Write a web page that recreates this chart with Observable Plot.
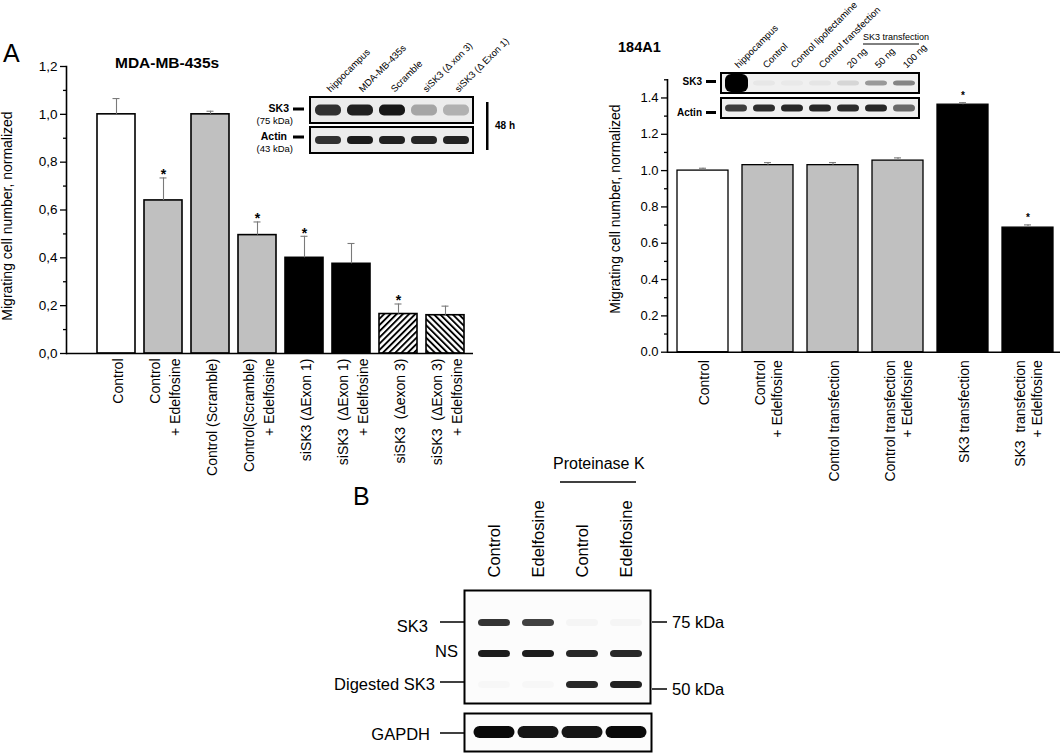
<!DOCTYPE html>
<html>
<head>
<meta charset="utf-8">
<script src="https://cdn.jsdelivr.net/npm/d3@7"></script>
<script src="https://cdn.jsdelivr.net/npm/@observablehq/plot@0.6"></script>
<style>
html,body{margin:0;padding:0;background:#fff;}
#page{position:relative;width:1063px;height:754px;overflow:hidden;background:#fff;}
#page > svg{position:absolute;left:0;top:0;}
</style>
</head>
<body>
<div id="page"></div>
<script>
const W = 1063, H = 754;
const FONT = '"Liberation Sans", Arial, Helvetica, sans-serif';

// ---------- Panel A, left chart: MDA-MB-435s ----------
const leftCategories = ["Control", "Control + Edelfosine", "Control (Scramble)", "Control(Scramble) + Edelfosine",
  "siSK3 (ΔExon 1)", "siSK3 (ΔExon 1) + Edelfosine", "siSK3 (Δexon 3)", "siSK3 (ΔExon 3) + Edelfosine"];
const leftTickText = [["Control"], ["Control", "+ Edelfosine"], ["Control (Scramble)"], ["Control(Scramble)", "+ Edelfosine"],
  ["siSK3 (ΔExon 1)"], ["siSK3  (ΔExon 1)", "+ Edelfosine"], ["siSK3  (Δexon 3)"], ["siSK3  (ΔExon 3)", "+ Edelfosine"]];
const leftValues = [1.0, 0.64, 1.0, 0.495, 0.40, 0.375, 0.165, 0.16];
const leftErrorTops = [1.066, 0.734, 1.013, 0.55, 0.49, 0.46, 0.207, 0.198];
const leftGroups = ["open", "grey", "grey", "grey", "solid", "solid", "hatchRise", "hatchFall"];
const leftSignificant = [false, true, false, true, true, false, true, false];
const leftYTicks = [0, 0.2, 0.4, 0.6, 0.8, 1.0, 1.2];
const leftYMinorTicks = [0.1, 0.3, 0.5, 0.7, 0.9, 1.1];

// ---------- Panel A, right chart: 184A1 ----------
const rightCategories = ["Control", "Control + Edelfosine", "Control transfection", "Control transfection + Edelfosine",
  "SK3 transfection", "SK3 transfection + Edelfosine"];
const rightTickText = [["Control"], ["Control", "+ Edelfosine"], ["Control transfection"], ["Control transfection", "+ Edelfosine"],
  ["SK3 transfection"], ["SK3  transfection", "+ Edelfosine"]];
const rightValues = [1.0, 1.03, 1.03, 1.055, 1.363, 0.686];
const rightErrorTops = [1.013, 1.044, 1.044, 1.07, 1.374, 0.701];
const rightGroups = ["open", "grey", "grey", "grey", "solid", "solid"];
const rightSignificant = [false, false, false, false, true, true];
const rightYTicks = [0, 0.2, 0.4, 0.6, 0.8, 1.0, 1.2, 1.4];
const rightYMinorTicks = [0.1, 0.3, 0.5, 0.7, 0.9, 1.1, 1.3, 1.5];

// ---------- Western blot insets (band intensity 0..1) ----------
const leftBlotLanes = ["hippocampus", "MDA-MB-435s", "Scramble", "siSK3 (Δ xon 3)", "siSK3 (Δ Exon 1)"];
const leftBlotRows = ["SK3", "Actin"];
const leftBlotSK3 = [0.85, 0.93, 0.97, 0.32, 0.27];
const leftBlotActin = [0.85, 0.95, 0.93, 0.9, 0.92];

const rightBlotLanes = ["hippocampus", "Control", "Control lipofectamine", "Control transfection", "20 ng", "50 ng", "100 ng"];
const rightBlotRows = ["SK3", "Actin"];
const rightBlotSK3 = [1.0, 0.04, 0.03, 0.05, 0.12, 0.42, 0.52];
const rightBlotActin = [0.8, 0.88, 0.9, 0.9, 0.88, 0.9, 0.6];

// ---------- Panel B ----------
const bLanes = ["Control", "Edelfosine", "Control", "Edelfosine"];
const bRows = ["SK3", "NS", "Digested SK3"];
const bSK3 = [0.85, 0.8, 0.03, 0.03];
const bNS = [0.95, 0.95, 0.9, 0.9];
const bDigested = [0.02, 0.02, 0.9, 0.93];
const bGAPDH = [1, 0.95, 0.95, 1];

// ---------- styles ----------
const groupFill = {open: "#ffffff", grey: "#c0c0c0", solid: "#000000", hatchRise: "url(#hatchRise)", hatchFall: "url(#hatchFall)"};
const PATTERNS = `
<pattern id="hatchRise" patternUnits="userSpaceOnUse" width="4.4" height="4.4" patternTransform="rotate(45)">
  <rect width="4.4" height="4.4" fill="#fff"/><rect width="1.9" height="4.4" fill="#000"/></pattern>
<pattern id="hatchFall" patternUnits="userSpaceOnUse" width="4.4" height="4.4" patternTransform="rotate(-45)">
  <rect width="4.4" height="4.4" fill="#fff"/><rect width="1.9" height="4.4" fill="#000"/></pattern>`;
const NS = "http://www.w3.org/2000/svg";
function defsMark(html) {
  return () => { const d = document.createElementNS(NS, "defs"); d.innerHTML = html; return d; };
}
const page = document.getElementById("page");

function barChart(o) {
  const data = o.cats.map((c, i) => ({cat: c, text: o.labels[i].join("\n"), v: o.values[i], e: o.errs[i], g: o.groups[i], star: o.stars[i]}));
  const [x0, x1, yTop, yBot] = o.frame;
  const marks = [];
  if (o.defs) marks.push(defsMark(PATTERNS));
  for (const g of Object.keys(groupFill)) {
    marks.push(Plot.barY(data.filter(d => d.g === g), {x: "cat", y: "v", fill: groupFill[g], stroke: "#000", strokeWidth: o.barStroke}));
  }
  marks.push(
    Plot.ruleX(data, {x: "cat", y1: "v", y2: "e", stroke: "#7a7a7a", strokeWidth: 1.1}),
    Plot.tickY(data, {x: "cat", y: "e", stroke: "#7a7a7a", strokeWidth: 1.1, insetLeft: o.capInset, insetRight: o.capInset}),
    Plot.text(data.filter(d => d.star), {x: "cat", y: "e", text: () => "*", fontSize: o.starSize, fontWeight: "bold", lineAnchor: "middle", dy: o.starDy}),
    Plot.axisY({ticks: o.yTicks, tickSize: 6, tickPadding: 3, tickFormat: o.fmt, fontSize: o.tickFont, label: null, strokeWidth: 1.3}),
    Plot.axisY({ticks: o.yMinor, tickSize: 3, tickFormat: () => "", label: null, strokeWidth: 1.3}),
    Plot.text(data, {x: "cat", text: "text", frameAnchor: "bottom", rotate: -90, textAnchor: "end", lineAnchor: "middle",
      lineHeight: o.labelLH, fontSize: 14, dy: o.labelDy, ariaLabel: "xlabels"}),
    Plot.ruleY([0], {stroke: "#000", strokeWidth: 1.6}),
    Plot.frame({anchor: "left", stroke: "#000", strokeWidth: 1.6})
  );
  return Plot.plot({
    width: W, height: H,
    marginLeft: x0, marginRight: W - x1, marginTop: yTop, marginBottom: H - yBot,
    style: {background: "transparent", fontFamily: FONT, color: "#000"},
    x: {type: "band", domain: o.cats, range: o.xRange, paddingInner: o.padIn, paddingOuter: o.padOut, axis: null},
    y: {domain: o.yDomain},
    marks
  });
}

function centerLines(svg) {
  svg.querySelectorAll('g[aria-label="xlabels"] text').forEach(t => {
    const spans = [...t.querySelectorAll("tspan")];
    const items = spans.length ? spans : [t];
    const m = Math.max(...items.map(s => s.getComputedTextLength()));
    t.setAttribute("text-anchor", "middle");
    items.forEach(s => s.setAttribute("x", -m / 2));
  });
}

const leftChart = barChart({
  cats: leftCategories, labels: leftTickText, values: leftValues, errs: leftErrorTops, groups: leftGroups, stars: leftSignificant,
  frame: [66, 473, 66, 353], xRange: [90.75, 470.75], padIn: 0.2, padOut: 0.1, yDomain: [0, 1.2],
  yTicks: leftYTicks, yMinor: leftYMinorTicks, fmt: d => d.toFixed(1).replace(".", ","), tickFont: 13.5,
  capInset: 15.5, starSize: 14, starDy: -3, labelDy: 5, labelLH: 1.4, barStroke: 1.6, defs: true
});
page.appendChild(leftChart);
centerLines(leftChart);

const rightChart = barChart({
  cats: rightCategories, labels: rightTickText, values: rightValues, errs: rightErrorTops, groups: rightGroups, stars: rightSignificant,
  frame: [667, 1060, 79.3, 351.7], xRange: [667.05, 1062.45], padIn: 0.21, padOut: 0.105, yDomain: [0, 1.5],
  yTicks: rightYTicks, yMinor: rightYMinorTicks, fmt: d => d.toFixed(1), tickFont: 13,
  capInset: 22, starSize: 10, starDy: -7, labelDy: 8, labelLH: 1.25, barStroke: 1.3, defs: false
});
page.appendChild(rightChart);
centerLines(rightChart);

// ---------- blots ----------
function cellsOf(lanes, row, vals) { return lanes.map((l, i) => ({lane: l, row, v: vals[i]})); }

function blot(o) {
  const [x0, x1, yTop, yBot] = o.frame;
  return Plot.plot({
    width: W, height: H,
    marginLeft: x0, marginRight: W - x1, marginTop: yTop, marginBottom: H - yBot,
    style: {background: "transparent", fontFamily: FONT, color: "#000"},
    x: {type: "band", domain: o.xDomain, range: o.xRange, paddingInner: 0, paddingOuter: 0, axis: null},
    y: {type: "band", domain: o.rows, range: o.yRange, paddingInner: o.rowGap, paddingOuter: 0, axis: null},
    opacity: {type: "identity"},
    marks: o.marks
  });
}
function blurBands(svg, px) {
  svg.querySelectorAll('g[aria-label="bands"]').forEach(g => g.style.filter = `blur(${px}px)`);
}

// left inset
const leftBlot = blot({
  frame: [310, 473, 97, 153], xDomain: leftBlotLanes, rows: leftBlotRows, rowGap: 4 / 30,
  marks: [
    Plot.cell(leftBlotRows, {y: d => d, fill: "#ececec", stroke: "#000", strokeWidth: 2}),
    Plot.cell(cellsOf(leftBlotLanes, "SK3", leftBlotSK3), {x: "lane", y: "row", fill: "#111", fillOpacity: "v", insetTop: 7.5, insetBottom: 7.5, insetLeft: 3, insetRight: 3, rx: 5, ariaLabel: "bands"}),
    Plot.cell(cellsOf(leftBlotLanes, "Actin", leftBlotActin), {x: "lane", y: "row", fill: "#111", fillOpacity: "v", insetTop: 9, insetBottom: 9, insetLeft: 3, insetRight: 3, rx: 4, ariaLabel: "bands"}),
    Plot.axisX({anchor: "top", tickRotate: -45, tickSize: 0, tickPadding: 7, fontSize: 9.5, label: null})
  ]
});
page.appendChild(leftBlot);
blurBands(leftBlot, 1.4);

// right inset
const rightBlot = blot({
  frame: [721, 919, 72, 119], xDomain: rightBlotLanes, rows: rightBlotRows, rowGap: 0.19,
  marks: [
    Plot.cell(rightBlotRows, {y: d => d, fill: "#f0f0f0", stroke: "#000", strokeWidth: 2}),
    Plot.cell(cellsOf(rightBlotLanes, "SK3", rightBlotSK3).filter(d => d.v < 0.99), {x: "lane", y: "row", fill: "#222", fillOpacity: "v", insetTop: 7.5, insetBottom: 7.5, insetLeft: 3, insetRight: 3, rx: 4, ariaLabel: "bands"}),
    Plot.cell(cellsOf(rightBlotLanes, "SK3", rightBlotSK3).filter(d => d.v >= 0.99), {x: "lane", y: "row", fill: "#000", fillOpacity: "v", insetTop: 1, insetBottom: 1, insetLeft: 3, insetRight: 2, rx: 6, ariaLabel: "bands"}),
    Plot.cell(cellsOf(rightBlotLanes, "Actin", rightBlotActin), {x: "lane", y: "row", fill: "#111", fillOpacity: "v", insetTop: 6.5, insetBottom: 6.5, insetLeft: 3, insetRight: 3, rx: 4, ariaLabel: "bands"}),
    Plot.axisX({anchor: "top", tickRotate: -45, tickSize: 0, tickPadding: 6, fontSize: 9.5, label: null})
  ]
});
page.appendChild(rightBlot);
blurBands(rightBlot, 1.3);

// panel B
const bIdx = bLanes.map((_, i) => i);
const bCells = [
  ...cellsOf(bIdx, "SK3", bSK3), ...cellsOf(bIdx, "NS", bNS), ...cellsOf(bIdx, "Digested SK3", bDigested)
];
const bBlot = blot({
  frame: [464, 650, 590, 703], xDomain: bIdx, xRange: [470.7, 649.4], rows: bRows, yRange: [606.5, 700], rowGap: 0,
  marks: [
    Plot.frame({fill: "#fcfcfc", stroke: "#000", strokeWidth: 2}),
    Plot.cell(bCells, {x: "lane", y: "row", fill: "#111", fillOpacity: "v", insetTop: 12, insetBottom: 12, insetLeft: 6, insetRight: 6, rx: 4, ariaLabel: "bands"}),
    Plot.axisX({anchor: "top", tickRotate: -90, tickSize: 0, tickPadding: 13, fontSize: 16.5, tickFormat: i => bLanes[i], label: null})
  ]
});
page.appendChild(bBlot);
blurBands(bBlot, 1.1);

const gBlot = blot({
  frame: [464, 651, 713, 751], xDomain: bIdx, xRange: [470.7, 649.4], rows: ["GAPDH"], rowGap: 0,
  marks: [
    Plot.frame({fill: "#fcfcfc", stroke: "#000", strokeWidth: 2}),
    Plot.cell(cellsOf(bIdx, "GAPDH", bGAPDH), {x: "lane", y: "row", fill: "#0a0a0a", fillOpacity: "v", insetTop: 13, insetBottom: 13, insetLeft: 1.5, insetRight: 1.5, rx: 6, ariaLabel: "bands"})
  ]
});
page.appendChild(gBlot);
blurBands(gBlot, 1.1);

// ---------- annotations (titles, panel letters, blot labels) ----------
const ann = document.createElementNS(NS, "svg");
ann.setAttribute("width", W); ann.setAttribute("height", H);
ann.setAttribute("font-family", FONT);
ann.innerHTML = `
<text x="3" y="62" font-size="25">A</text>
<text x="115" y="68" font-size="15.5" font-weight="bold">MDA-MB-435s</text>
<text x="618" y="52" font-size="14.5" font-weight="bold">184A1</text>
<text transform="translate(11.5,216) rotate(-90)" text-anchor="middle" font-size="14">Migrating cell number, normalized</text>
<text transform="translate(620,209) rotate(-90)" text-anchor="middle" font-size="14">Migrating cell number, normalized</text>

<text x="289" y="112" text-anchor="end" font-size="10.5" font-weight="bold">SK3</text>
<rect x="293" y="107.5" width="11" height="3"/>
<text x="293" y="123.5" text-anchor="end" font-size="9.5">(75 kDa)</text>
<text x="287" y="140" text-anchor="end" font-size="10.5" font-weight="bold">Actin</text>
<rect x="293" y="135.5" width="11" height="3"/>
<text x="293" y="152" text-anchor="end" font-size="9.5">(43 kDa)</text>
<rect x="486" y="102" width="2.5" height="48"/>
<text x="495" y="129" font-size="10" font-weight="bold">48 h</text>

<text x="702" y="85" text-anchor="end" font-size="10" font-weight="bold">SK3</text>
<rect x="706" y="80" width="10" height="3"/>
<text x="702" y="116" text-anchor="end" font-size="10" font-weight="bold">Actin</text>
<rect x="706" y="111" width="10" height="3"/>
<text x="863" y="40" font-size="9">SK3 transfection</text>
<line x1="863" x2="919" y1="44" y2="44" stroke="#000" stroke-width="1"/>

<text x="353" y="505" font-size="25">B</text>
<text x="553" y="469" font-size="16">Proteinase K</text>
<line x1="560" x2="636" y1="482" y2="482" stroke="#000" stroke-width="1.6"/>
<text x="428" y="632" text-anchor="end" font-size="16.5">SK3</text>
<line x1="440" x2="465" y1="622" y2="622" stroke="#000" stroke-width="1.5"/>
<text x="458" y="657" text-anchor="end" font-size="16.5">NS</text>
<text x="435" y="690" text-anchor="end" font-size="16.5">Digested SK3</text>
<line x1="440" x2="465" y1="682" y2="682" stroke="#000" stroke-width="1.5"/>
<text x="430" y="740" text-anchor="end" font-size="16.5">GAPDH</text>
<line x1="440" x2="465" y1="733" y2="733" stroke="#000" stroke-width="1.5"/>
<line x1="652" x2="667" y1="622" y2="622" stroke="#000" stroke-width="1.5"/>
<text x="672" y="628" font-size="16.5">75 kDa</text>
<line x1="652" x2="667" y1="689" y2="689" stroke="#000" stroke-width="1.5"/>
<text x="672" y="695" font-size="16.5">50 kDa</text>
`;
page.appendChild(ann);
</script>
</body>
</html>
